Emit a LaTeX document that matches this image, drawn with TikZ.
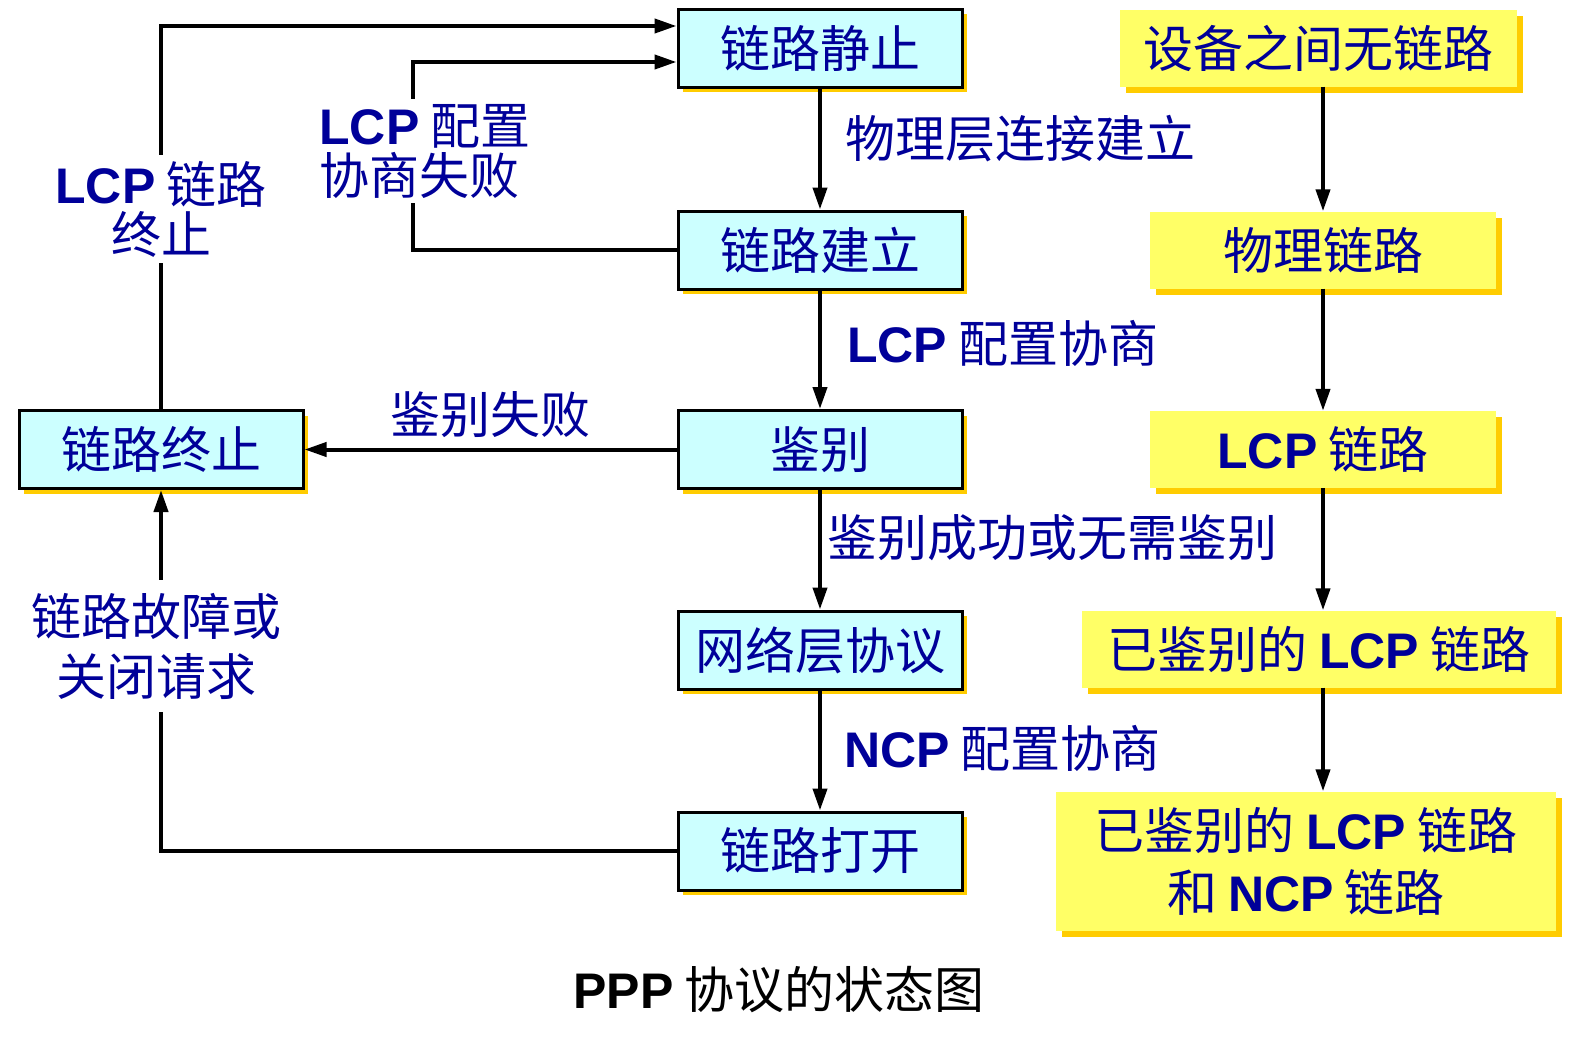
\documentclass[tikz,border=0pt]{standalone}
\usepackage{fontspec}
\setmainfont{Noto Sans CJK SC}
\newfontfamily\latfont{Liberation Sans}
\newcommand{\lat}[1]{{\latfont\bfseries #1}}
\newcommand{\stfont}{\fontsize{50pt}{58pt}\selectfont}
\usepackage{tikz}
\usetikzlibrary{arrows.meta, shadows}
\definecolor{boxcyan}{HTML}{CCFFFF}
\definecolor{boxyellow}{HTML}{FFFF66}
\definecolor{shadowgold}{HTML}{FFCC00}
\definecolor{textblue}{HTML}{000099}

\begin{document}
\begin{tikzpicture}[
    x=1pt, y={(0pt,-1pt)},
    state/.style={draw, line width=3pt, fill=boxcyan, minimum width=284pt, minimum height=78pt, inner sep=0pt, text=textblue, font=\stfont,
        drop shadow={fill=shadowgold, opacity=1, shadow xshift=5pt, shadow yshift=-5pt}},
    phase/.style={fill=boxyellow, minimum height=77pt, inner sep=0pt, text=textblue, font=\stfont, align=center,
        drop shadow={fill=shadowgold, opacity=1, shadow xshift=6pt, shadow yshift=-6pt}},
    arrow/.style={-{Triangle[length=22pt, width=14pt]}, line width=4pt},
    lbl/.style={text=textblue, font=\stfont, inner sep=0pt}
]
    \useasboundingbox (0,0) rectangle (1582,1052);

    % PPP states
    \node[state] (quiet) at (820,48) {链路静止};
    \node[state] (establish) at (820,250) {链路建立};
    \node[state] (auth) at (820,449.5) {鉴别};
    \node[state] (network) at (820,650) {网络层协议};
    \node[state] (open) at (820,851) {链路打开};
    \node[state] (terminate) at (161,449.5) {链路终止};

    % link status
    \node[phase, minimum width=397pt] (nolink) at (1318.5,48) {设备之间无链路};
    \node[phase, minimum width=346pt] (phys) at (1323,250) {物理链路};
    \node[phase, minimum width=346pt] (lcplink) at (1323,449.5) {\lat{LCP} 链路};
    \node[phase, minimum width=474pt] (authlcp) at (1319,649) {已鉴别的 \lat{LCP} 链路};
    \node[phase, minimum width=500pt, minimum height=139pt, font=\fontsize{50pt}{62pt}\selectfont] (authncp) at (1306,861) {已鉴别的 \lat{LCP} 链路\\和 \lat{NCP} 链路};

    % main sequence
    \draw[arrow] (quiet) -- (establish);
    \draw[arrow] (establish) -- (auth);
    \draw[arrow] (auth) -- (network);
    \draw[arrow] (network) -- (open);
    \draw[arrow] (auth) -- node[lbl, above=10pt] (authfail) {鉴别失败} (terminate);

    % back to quiet
    \draw[arrow] (terminate.north) |- (quiet.west |- 0,26);
    \draw[arrow] (establish.west) -| (413,62) -- (quiet.west |- 0,62);
    \draw[arrow] (open.west) -| (terminate.south);

    % status sequence
    \draw[arrow] (nolink.south -| phys) -- (phys);
    \draw[arrow] (phys) -- (lcplink);
    \draw[arrow] (lcplink.south) -- (lcplink.south |- authlcp.north);
    \draw[arrow] (lcplink |- authlcp.south) -- (lcplink |- authncp.north);

    % labels
    \node[lbl, anchor=west] (physup) at (845,139) {物理层连接建立};
    \node[lbl, anchor=west] (lcpcfg) at (847,343) {\lat{LCP} 配置协商};
    \node[lbl, anchor=west] (authok) at (827,538) {鉴别成功或无需鉴别};
    \node[lbl, anchor=west] (ncpcfg) at (844,748) {\lat{NCP} 配置协商};
    \node[lbl, fill=white, inner ysep=6pt, align=center, font=\fontsize{50pt}{50pt}\selectfont] (lcpterm) at (161,209) {\lat{LCP} 链路\\终止};
    \node[lbl, fill=white, inner ysep=5pt, align=left, font=\fontsize{50pt}{50pt}\selectfont] (lcpfail) at (425,151) {\lat{LCP} 配置\\协商失败};
    \node[lbl, fill=white, inner ysep=13pt, align=center, font=\fontsize{50pt}{60pt}\selectfont] (linkdown) at (156,646) {链路故障或\\关闭请求};

    % caption
    \node[font=\stfont] (caption) at (779,990) {\lat{PPP} 协议的状态图};
\end{tikzpicture}
\end{document}
